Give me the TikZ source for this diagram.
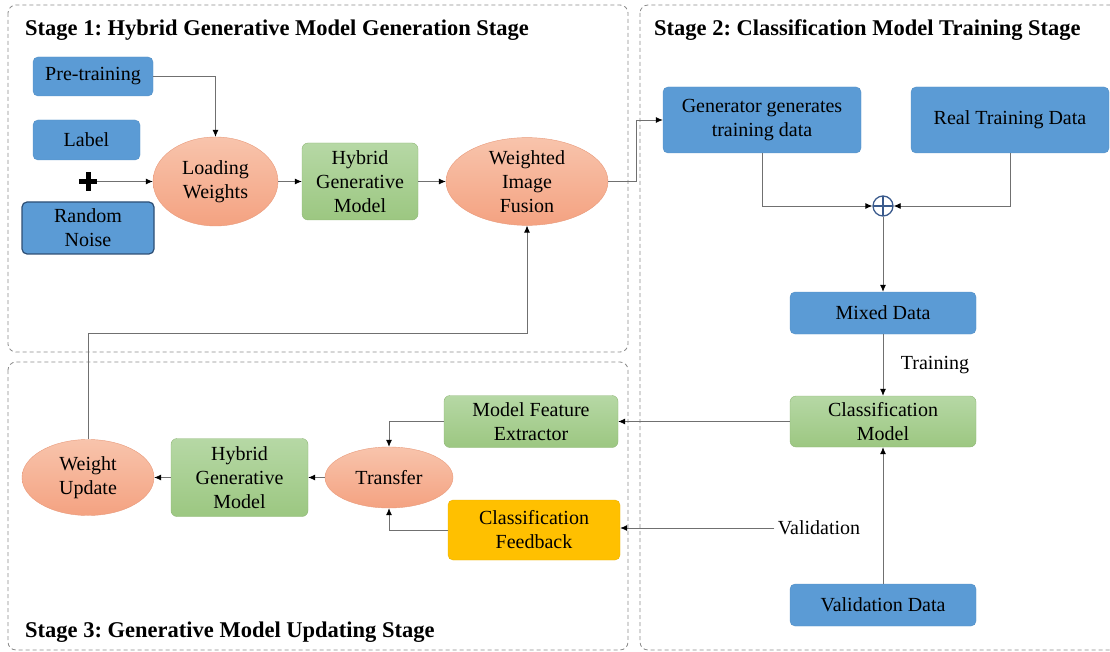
\documentclass[tikz,border=0pt]{standalone}
\usepackage{fontspec}
\setmainfont{Liberation Serif}
\usetikzlibrary{arrows.meta,shapes.geometric,shadings}
\frenchspacing

\definecolor{boxblue}{HTML}{5B9BD5}
\definecolor{noiseedge}{HTML}{2E4F75}
\definecolor{orangetop}{HTML}{F8C4AC}
\definecolor{orangebot}{HTML}{F4A281}
\definecolor{greentop}{HTML}{B6D8A5}
\definecolor{greenbot}{HTML}{9CC781}
\definecolor{gold}{HTML}{FFC000}
\definecolor{framegray}{HTML}{8A8A8A}
\definecolor{wiregray}{HTML}{707070}
\definecolor{oplusedge}{HTML}{3A5A8C}

\tikzset{
  every node/.append style={font=\fontsize{20}{24}\selectfont},
  bluebox/.style={rectangle, rounded corners=5pt, fill=boxblue,
    draw=boxblue!92!black, line width=0.4pt, align=center, inner sep=0pt},
  greenbox/.style={rectangle, rounded corners=6pt, top color=greentop,
    bottom color=greenbot, draw=greenbot!92!black, line width=0.4pt,
    align=center, inner sep=0pt},
  goldbox/.style={rectangle, rounded corners=5pt, fill=gold,
    draw=gold!92!black, line width=0.4pt, align=center, inner sep=0pt},
  oval/.style={ellipse, top color=orangetop, bottom color=orangebot,
    draw=orangebot!95!black, line width=0.4pt, align=center, inner sep=0pt},
  stageframe/.style={draw=framegray, dash pattern=on 4pt off 3pt,
    rounded corners=8pt, line width=0.8pt},
  stagetitle/.style={font=\fontsize{22.5}{26}\selectfont\bfseries,
    anchor=west, inner sep=0pt},
  wire/.style={draw=wiregray, line width=0.8pt,
    -{Latex[length=7pt,width=6pt,color=black]}},
}

\begin{document}
\begin{tikzpicture}[x=1pt,y=-1pt]
\useasboundingbox (0,0) rectangle (1110,652);

% stage frames
\draw[stageframe] (8,5) rectangle (628,352);
\draw[stageframe] (640,5) rectangle (1118,650);
\draw[stageframe] (8,362) rectangle (628,650);

\node[stagetitle] (t1) at (25,30) {Stage 1: Hybrid Generative Model Generation Stage};
\node[stagetitle] (t2) at (654,30) {Stage 2: Classification Model Training Stage};
\node[stagetitle] (t3) at (25,632) {Stage 3: Generative Model Updating Stage};

% stage 1
\node[bluebox, minimum width=120, minimum height=39] (pre) at (93,76.5) {Pre-training};
\node[bluebox, minimum width=107, minimum height=40] (label) at (86.5,140) {Label};
\node[minimum size=18, inner sep=0pt] (plus) at (88,181.5) {};
\draw[line width=5pt] (plus.north) -- (plus.south) (plus.west) -- (plus.east);
\node[bluebox, draw=noiseedge, line width=1.2pt, minimum width=132, minimum height=52] (noise) at (88,228) {Random\\Noise};
\node[oval, minimum width=125, minimum height=89] (load) at (215.5,181.5) {Loading\\Weights};
\node[greenbox, minimum width=116, minimum height=77] (hgm1) at (360,181.5) {Hybrid\\Generative\\Model};
\node[oval, minimum width=162, minimum height=87] (fusion) at (527,181.5) {Weighted\\Image\\Fusion};

% stage 2
\node[bluebox, minimum width=198, minimum height=66] (gen) at (762,120) {Generator generates\\training data};
\node[bluebox, minimum width=198, minimum height=66] (real) at (1010,120) {Real Training Data};
\node[circle, draw=oplusedge, line width=1.3pt, minimum size=20, inner sep=0pt,
  path picture={\draw[oplusedge, line width=1.3pt]
    (path picture bounding box.north) -- (path picture bounding box.south)
    (path picture bounding box.west) -- (path picture bounding box.east);}]
  (oplus) at (883,206) {};
\node[bluebox, minimum width=186, minimum height=42] (mixed) at (883,313) {Mixed Data};
\node[greenbox, minimum width=186, minimum height=51] (cls) at (883,421.5) {Classification\\Model};
\node[bluebox, minimum width=186, minimum height=42] (vdata) at (883,605) {Validation Data};
\node (train) at (935,365) {Training};
\node (valtext) at (819,528) {Validation};

% stage 3
\node[greenbox, minimum width=174, minimum height=52] (mfe) at (531,421.5) {Model Feature\\Extractor};
\node[goldbox, minimum width=172, minimum height=60] (feedback) at (534,530) {Classification\\Feedback};
\node[oval, minimum width=128, minimum height=61] (transfer) at (389,477.5) {Transfer};
\node[greenbox, minimum width=137, minimum height=78] (hgm2) at (239.5,477.5) {Hybrid\\Generative\\Model};
\node[oval, minimum width=132, minimum height=76] (wupd) at (88,477.5) {Weight\\Update};

% connectors
\draw[wire] (pre.east) -| (load.north);
\draw[wire] (plus.east) -- (load.west);
\draw[wire] (load.east) -- (hgm1.west);
\draw[wire] (hgm1.east) -- (fusion.west);
\coordinate (jog) at (636,120);
\draw[wire] (fusion.east) -| (jog) -- (gen.west);
\draw[wire] (gen.south) |- (oplus.west);
\draw[wire] (real.south) |- (oplus.east);
\draw[wire] (oplus.south) -- (mixed.north);
\draw[wire] (mixed.south) -- (cls.north);
\draw[wire] (vdata.north) -- (cls.south);
\draw[wire] (cls.west) -- (mfe.east);
\draw[wire] (valtext.west) -- (valtext.west -| feedback.east);
\draw[wire] (mfe.west) -| (transfer.north);
\draw[wire] (feedback.west) -| (transfer.south);
\draw[wire] (transfer.west) -- (hgm2.east);
\draw[wire] (hgm2.west) -- (wupd.east);
\coordinate (upd) at (88,333);
\draw[wire] (wupd.north) -- (upd) -| (fusion.south);
\end{tikzpicture}
\end{document}
